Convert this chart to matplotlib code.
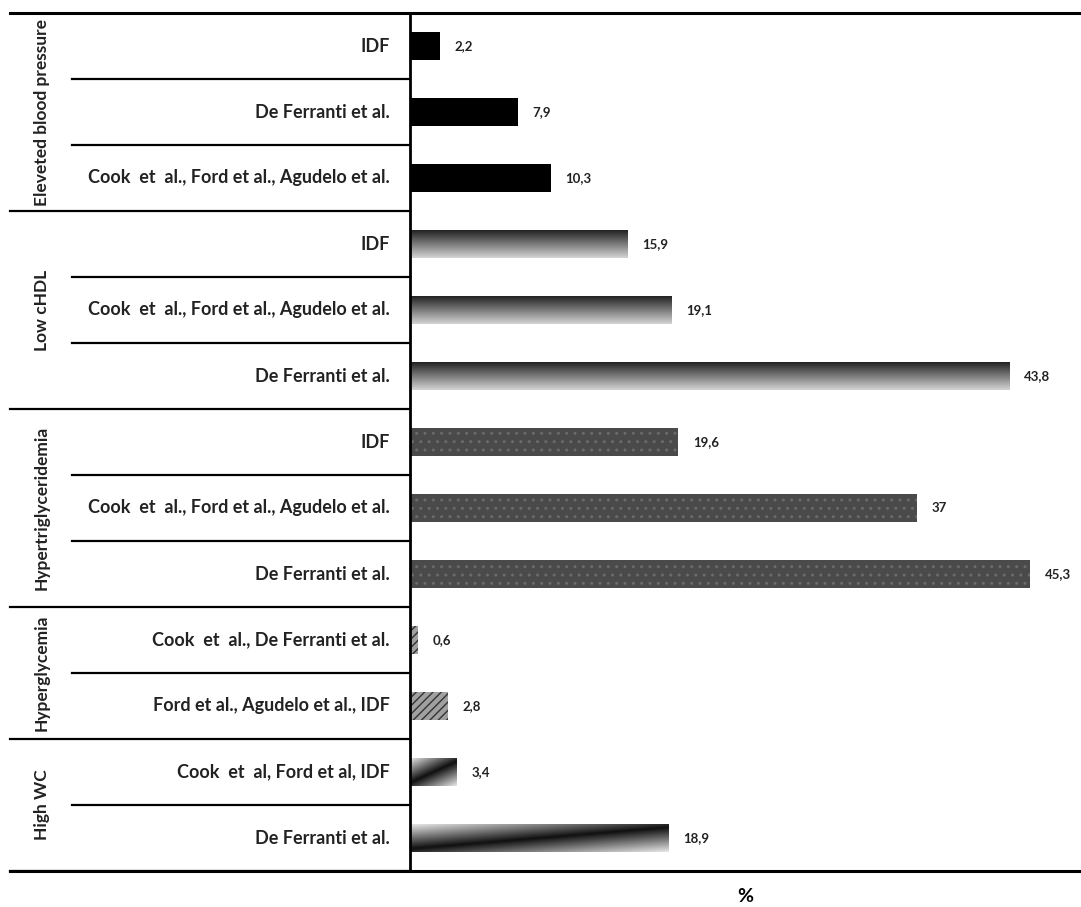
import numpy as np
import matplotlib
matplotlib.use("Agg")
import matplotlib.pyplot as plt
from matplotlib.transforms import blended_transform_factory

plt.rcParams['font.family'] = ['Lato', 'DejaVu Sans']

# data (top to bottom)
groups = ["Eleveted blood pressure", "Low cHDL", "Hypertriglyceridemia",
          "Hyperglycemia", "High WC"]
group_sizes = [3, 3, 3, 2, 2]
criteria = ["IDF", "De Ferranti et al.", "Cook  et  al., Ford et al., Agudelo et al.",
            "IDF", "Cook  et  al., Ford et al., Agudelo et al.", "De Ferranti et al.",
            "IDF", "Cook  et  al., Ford et al., Agudelo et al.", "De Ferranti et al.",
            "Cook  et  al., De Ferranti et al.", "Ford et al., Agudelo et al., IDF",
            "Cook  et  al, Ford et al, IDF", "De Ferranti et al."]
values = [2.2, 7.9, 10.3,
          15.9, 19.1, 43.8,
          19.6, 37, 45.3,
          0.6, 2.8,
          3.4, 18.9]

fig = plt.figure(figsize=(10.81, 9.07), dpi=100)
W, H = 1081, 907
ax = fig.add_axes([410 / W, 1 - 871 / H, 1 - 410 / W, (871 - 13) / H])

n = len(values)
ypos = np.arange(n) + 0.5
XMAX = 49

group_of_row = np.repeat(np.arange(len(groups)), group_sizes)
face = {0: "black", 1: "none", 2: "#4a4a4a", 3: "#a0a0a0", 4: "none"}
bars = ax.barh(ypos, values, height=0.42,
               color=[face[g] for g in group_of_row], edgecolor="none")

# fills that are not plain colours
vgrad = np.linspace(0, 1, 64).reshape(-1, 1)
uu = np.linspace(0, 1, 160)
vv = np.linspace(0, 1, 24).reshape(-1, 1)
diag = 0.08 + 1.2 * np.abs(vv - (0.9 - 0.8 * uu))
for b, g in zip(bars, group_of_row):
    x0, y0 = b.get_x(), b.get_y()
    w, h = b.get_width(), b.get_height()
    if g == 1:
        im = ax.imshow(vgrad, cmap="gray", vmin=-0.2, vmax=1.25, aspect="auto",
                       extent=[x0, x0 + w, y0 + h, y0], interpolation="bilinear")
        im.set_clip_path(b)
    elif g == 4:
        im = ax.imshow(diag, cmap="gray", vmin=0.0, vmax=1.3, aspect="auto",
                       extent=[x0, x0 + w, y0 + h, y0], interpolation="bilinear")
        im.set_clip_path(b)
    elif g == 3:
        b.set_hatch("////")
        b.set_edgecolor("#333333")
        b.set_linewidth(0)
    elif g == 2:
        b.set_hatch("..")
        b.set_edgecolor("#6a6a6a")
        b.set_linewidth(0)
ax.set_ylim(n, 0)
ax.set_xlim(0, XMAX)

for b, v in zip(bars, values):
    ax.annotate(f"{v:g}".replace(".", ","), (v, b.get_y() + b.get_height() / 2),
                xytext=(10.5, 0), textcoords="offset points", va="center", ha="left",
                fontsize=9.5, fontweight="bold", color="#222222")

# frame
for s in ["right", "top", "bottom"]:
    ax.spines[s].set_visible(False)
ax.spines["left"].set_linewidth(2)
ax.set_xticks([])
ax.set_yticks([])

# left table
tr = blended_transform_factory(fig.transFigure, ax.transData)
lw = 1.6
ax.plot([10 / W, 1], [0, 0], transform=tr, color="black", lw=2.2, clip_on=False)
ax.plot([10 / W, 1], [n, n], transform=tr, color="black", lw=2.2, clip_on=False)
start = 0
for gname, size in zip(groups, group_sizes):
    end = start + size
    ax.plot([10 / W, 410 / W], [end, end], transform=tr, color="black", lw=lw,
            clip_on=False)
    for k in range(start + 1, end):
        ax.plot([72 / W, 410 / W], [k, k], transform=tr, color="black", lw=lw,
                clip_on=False)
    ax.text(42 / W, (start + end) / 2, gname, transform=tr, rotation=90,
            ha="center", va="center", fontsize=12.5, fontweight="bold",
            color="#222222")
    start = end

for y, lab in zip(ypos, criteria):
    ax.text(390 / W, y, lab, transform=tr, ha="right", va="center",
            fontsize=13, fontweight="bold", color="#222222")

fig.text(745 / W, 1 - 897 / H, "%", ha="center", va="center", fontsize=14,
         fontweight="bold")

fig.savefig("out.png", dpi=100)
